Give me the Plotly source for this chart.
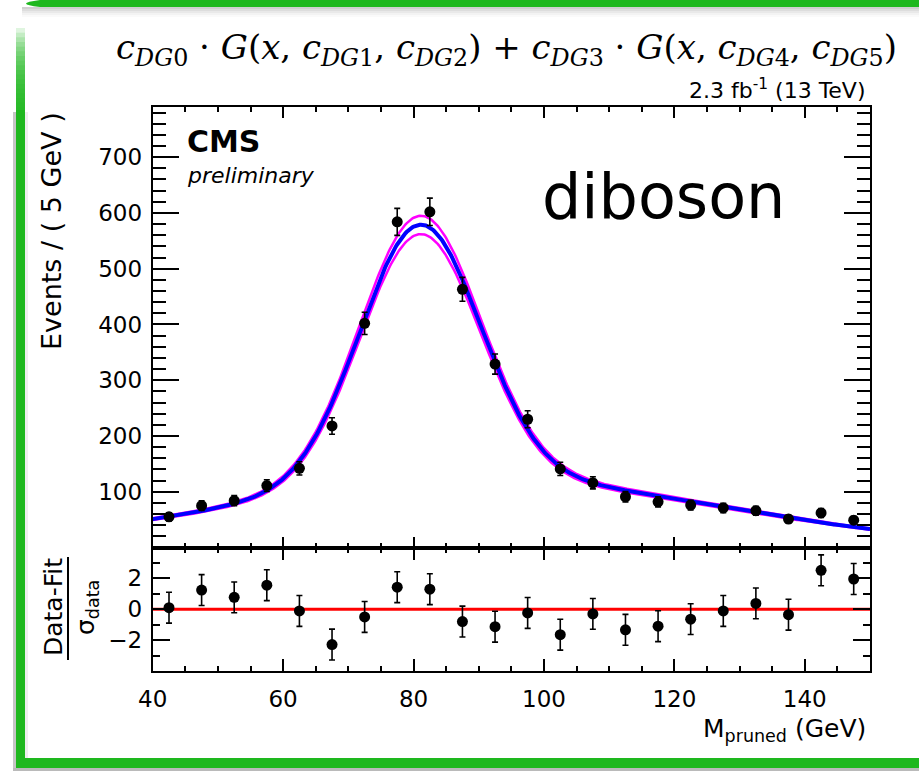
import numpy as np
import plotly.graph_objects as go

W, H = 919, 771

# Pruned jet mass, 5 GeV bins
mass_bins = [42.5, 47.5, 52.5, 57.5, 62.5, 67.5, 72.5, 77.5, 82.5, 87.5, 92.5,
             97.5, 102.5, 107.5, 112.5, 117.5, 122.5, 127.5, 132.5, 137.5, 142.5, 147.5]
events = [55, 75, 84, 111, 142, 218, 402, 584, 602, 463, 329,
          230, 141, 116, 91, 82, 76, 71, 66, 51, 62, 49]
event_err = [7.4, 8.7, 9.2, 10.5, 11.9, 14.8, 20.0, 24.2, 24.5, 21.5, 18.1,
             15.2, 11.9, 10.8, 9.5, 9.1, 8.7, 8.4, 8.1, 7.1, 7.9, 7.0]

# (Data - Fit) / sigma_data per bin
pulls = [0.10, 1.24, 0.77, 1.56, -0.11, -2.29, -0.50, 1.43, 1.30, -0.80, -1.13,
         -0.24, -1.65, -0.30, -1.33, -1.10, -0.64, -0.11, 0.38, -0.35, 2.52, 1.96]
pull_err = [1.0, 1.0, 1.0, 1.0, 1.0, 1.0, 1.0, 1.0, 1.0, 1.0, 1.0,
            1.0, 1.0, 1.0, 1.0, 1.0, 1.0, 1.0, 1.0, 1.0, 1.0, 1.0]

# Double-Gaussian fit: c0*G(x, c1, c2) + c3*G(x, c4, c5)
fit_nominal = [460.0, 81.0, 9.2, 122.0, 89.5, 37.4]
fit_up = [472.0, 81.0, 9.25, 126.0, 89.5, 37.4]
fit_down = [447.0, 81.0, 9.15, 118.0, 89.5, 37.4]

x_range = [40, 150]
y_range = [0, 790]
pull_range = [-4, 4]

y_major = [100, 200, 300, 400, 500, 600, 700]
y_minor = [v for v in range(20, 790, 20) if v % 100 != 0]
pull_major = [-2, 0, 2]
pull_minor = [-3, -1, 1, 3]


def double_gauss(x, p):
    return (p[0] * np.exp(-0.5 * ((x - p[1]) / p[2]) ** 2)
            + p[3] * np.exp(-0.5 * ((x - p[4]) / p[5]) ** 2))


xs = np.linspace(x_range[0], x_range[1], 600)

GREEN = "rgb(30,184,30)"
FONT = "DejaVu Sans"


def px(x):
    return x / W


def py(y):
    return 1 - y / H


fig = go.Figure()

for p in (fit_up, fit_down):
    fig.add_trace(go.Scatter(x=xs, y=double_gauss(xs, p), mode="lines",
                             line=dict(color="#ff00ff", width=2.5),
                             xaxis="x", yaxis="y"))
fig.add_trace(go.Scatter(x=xs, y=double_gauss(xs, fit_nominal), mode="lines",
                         line=dict(color="#0000ff", width=4),
                         xaxis="x", yaxis="y"))
fig.add_trace(go.Scatter(x=mass_bins, y=events, mode="markers",
                         marker=dict(color="black", size=11),
                         error_y=dict(type="data", array=event_err, color="black",
                                      thickness=1.6, width=3),
                         xaxis="x", yaxis="y"))

fig.add_trace(go.Scatter(x=x_range, y=[0, 0], mode="lines",
                         line=dict(color="#ff0000", width=3),
                         xaxis="x2", yaxis="y2"))
fig.add_trace(go.Scatter(x=mass_bins, y=pulls, mode="markers",
                         marker=dict(color="black", size=11),
                         error_y=dict(type="data", array=pull_err, color="black",
                                      thickness=1.6, width=3),
                         xaxis="x2", yaxis="y2"))

axis_common = dict(showline=True, linecolor="black", linewidth=2, mirror="ticks",
                   ticks="inside", tickcolor="black", showgrid=False, zeroline=False,
                   automargin=False,
                   tickfont=dict(family=FONT, size=23, color="black"))

x_dom = [px(152.7), px(870)]
main_dom = [py(547.5), py(107)]
pull_dom = [py(671), py(547.5)]

fig.update_layout(
    width=W, height=H,
    margin=dict(l=0, r=0, t=0, b=0, pad=0),
    paper_bgcolor="white", plot_bgcolor="white",
    showlegend=False, hovermode=False,
    xaxis=dict(axis_common, domain=x_dom, anchor="y", range=x_range,
               tickmode="linear", tick0=40, dtick=20, ticklen=11, tickwidth=2,
               showticklabels=False,
               minor=dict(dtick=5, tick0=40, ticklen=5, tickwidth=1.5,
                          tickcolor="black", ticks="inside")),
    yaxis=dict(axis_common, domain=main_dom, anchor="x", range=y_range,
               tickmode="array", tickvals=y_major, ticklen=26, tickwidth=2,
               ticklabelstandoff=4,
               minor=dict(tickmode="array", tickvals=y_minor, ticklen=13,
                          tickwidth=1.5, tickcolor="black", ticks="inside")),
    xaxis2=dict(axis_common, domain=x_dom, anchor="y2", range=x_range,
                tickmode="linear", tick0=40, dtick=20, ticklen=12, tickwidth=2,
                ticklabelstandoff=6,
                minor=dict(dtick=5, tick0=40, ticklen=5, tickwidth=1.5,
                           tickcolor="black", ticks="inside")),
    yaxis2=dict(axis_common, domain=pull_dom, anchor="x2", range=pull_range,
                tickmode="array", tickvals=pull_major,
                ticklen=17, tickwidth=2, ticklabelstandoff=4,
                minor=dict(tickmode="array", tickvals=pull_minor, ticklen=7,
                           tickwidth=1.5, tickcolor="black", ticks="inside")),
)

title_text = ("<i>c</i><sub><i>DG</i>0</sub> · <i>G</i>(<i>x</i>, <i>c</i><sub><i>DG</i>1</sub>, "
              "<i>c</i><sub><i>DG</i>2</sub>) + <i>c</i><sub><i>DG</i>3</sub> · "
              "<i>G</i>(<i>x</i>, <i>c</i><sub><i>DG</i>4</sub>, <i>c</i><sub><i>DG</i>5</sub>)")


def note(text, x, y, size, xanchor="center", yanchor="middle", angle=0,
         family=FONT, color="black"):
    fig.add_annotation(text=text, x=px(x), y=py(y), xref="paper", yref="paper",
                       xanchor=xanchor, yanchor=yanchor, textangle=angle,
                       showarrow=False, font=dict(family=family, size=size, color=color))


note(title_text, 506, 50, 34, family="DejaVu Serif")
note("2.3 fb<sup>-1</sup> (13 TeV)", 868, 89, 22, xanchor="right")
note("<b>CMS</b>", 185, 141, 30, xanchor="left")
note("<i>preliminary</i>", 185, 176, 22, xanchor="left")
note("diboson", 540, 196, 62, xanchor="left")
note("Events / ( 5 GeV )", 51, 231, 27, angle=-90)
note("Data-Fit", 53, 607, 25, angle=-90)
note("σ<sub>data</sub>", 87, 608, 25, angle=-90)
note("M<sub>pruned</sub> (GeV)", 868, 730, 25, xanchor="right")

shapes = [dict(type="line", xref="paper", yref="paper", x0=px(68), x1=px(68),
               y0=py(557), y1=py(660), line=dict(color="black", width=2))]


def rect(x0, y0, x1, y1, color, opacity=1.0):
    shapes.append(dict(type="rect", xref="paper", yref="paper",
                       x0=px(x0), x1=px(x1), y0=py(y1), y1=py(y0),
                       fillcolor=color, opacity=opacity, line=dict(width=0),
                       layer="above"))


# slide frame: top bar with soft shadow
for i, a in enumerate([0.35, 0.25, 0.16, 0.09, 0.04]):
    rect(22, 7 + 2 * i, W, 9 + 2 * i, "rgb(120,120,120)", a)
shapes.append(dict(type="path", xref="paper", yref="paper",
                   path=(f"M {px(W)},{py(0)} L {px(40)},{py(0)} "
                         f"Q {px(12)},{py(3.5)} {px(40)},{py(7)} L {px(W)},{py(7)} Z"),
                   fillcolor=GREEN, line=dict(width=0), layer="above"))

# left bar: soft fade-in built from stacked translucent layers, then solid
steps = 18
for i in range(steps):
    y0 = 28 + i * (84 / steps)
    rect(16, y0, 25, 112, GREEN, 0.14)
rect(13, 112, 16, 768, "rgb(150,150,150)", 0.55)
rect(16, 110, 25, 768, GREEN)
rect(25, 112, 28, 758, "rgb(200,200,200)", 0.3)

# bottom bar with shadow
rect(16, 758, W, 768, GREEN)
rect(13, 768, W, 771, "rgb(140,140,140)", 0.6)

fig.update_layout(shapes=shapes)

fig.write_html("out.html",
               post_script="document.body.style.margin='0';"
                           "document.body.style.overflow='hidden';")
